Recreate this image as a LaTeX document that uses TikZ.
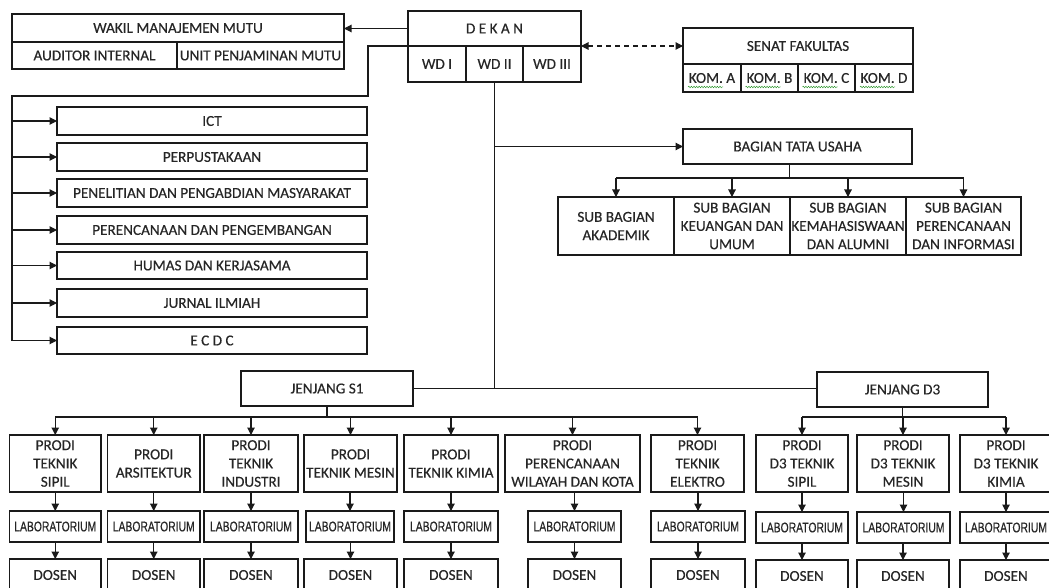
\documentclass[tikz,border=0pt]{standalone}
\usepackage{fontspec}
\setmainfont{Carlito}[FakeBold=0.35]
\newfontfamily\narrowfont[FakeStretch=0.74,FakeBold=0.3]{Liberation Sans}
\usetikzlibrary{arrows.meta,decorations.pathmorphing}
\definecolor{txt}{HTML}{262626}
\definecolor{ln}{HTML}{1A1A1A}
\tikzset{
  box/.style={draw=ln, line width=1.1pt, inner sep=0pt, outer sep=0pt, align=center,
    text=txt, font=\fontsize{15.2}{18.3}\selectfont},
  labbox/.style={box, font=\narrowfont\fontsize{14}{16}\selectfont},
  conn/.style={draw=ln, line width=1.1pt},
  arr/.style={conn, -{Triangle[length=7.5pt,width=7.5pt]}},
  dblarr/.style={conn, dash pattern=on 5pt off 4pt,
    {Triangle[length=7.5pt,width=7.5pt]}-{Triangle[length=7.5pt,width=7.5pt]}},
  spell/.style={draw=green!50!black!80, line width=0.5pt,
    decorate, decoration={snake, amplitude=0.8pt, segment length=2.6pt}},
}
% \mybox[opts]{name}{x1}{y1}{x2}{y2}{text}
\newcommand{\mybox}[7][]{%
  \node[box,#1,minimum width={(#5)-(#3)},minimum height={(#6)-(#4)}]
    (#2) at ({((#3)+(#5))/2},{((#4)+(#6))/2}) {#7};}
\begin{document}
\begin{tikzpicture}[x=1pt,y=-1pt]
\clip (0,0) rectangle (1049,588);
\fill[white] (0,0) rectangle (1049,588);

% ---------- top ----------
\mybox{wmm}{12}{14}{344}{42}{WAKIL MANAJEMEN MUTU}
\mybox{aud}{12}{42}{177}{69}{AUDITOR INTERNAL}
\mybox{upm}{177}{42}{344}{69}{UNIT PENJAMINAN MUTU}

\mybox{dekan}{408}{11}{581}{46}{D E K A N}
\mybox{wd1}{408}{46}{466}{82}{WD I}
\mybox{wd2}{466}{46}{523}{82}{WD II}
\mybox{wd3}{523}{46}{581}{82}{WD III}

\mybox{senat}{683}{28}{913}{64}{SENAT FAKULTAS}
\mybox{koma}{683}{64}{741}{92}{KOM. A}
\mybox{komb}{741}{64}{798}{92}{KOM. B}
\mybox{komc}{798}{64}{855}{92}{KOM. C}
\mybox{komd}{855}{64}{913}{92}{KOM. D}
\foreach \k in {koma,komb,komc,komd}{
  \draw[spell] ([xshift=-24pt,yshift=5pt]\k.south) -- ++(35,0);
}

% ---------- left column ----------
\mybox{ict}{57}{107}{367}{135}{ICT}
\mybox{perpus}{57}{143}{367}{171}{PERPUSTAKAAN}
\mybox{lppm}{57}{179}{367}{207}{PENELITIAN DAN PENGABDIAN MASYARAKAT}
\mybox{renbang}{57}{216}{367}{244}{PERENCANAAN DAN PENGEMBANGAN}
\mybox{humas}{57}{252}{367}{279}{HUMAS DAN KERJASAMA}
\mybox{jurnal}{57}{289}{367}{317}{JURNAL ILMIAH}
\mybox{ecdc}{57}{327}{367}{354}{E C D C}

% ---------- tata usaha ----------
\mybox{bagian}{683}{129}{912}{164}{BAGIAN TATA USAHA}
\mybox{sub1}{558}{197}{674}{255}{SUB BAGIAN\\AKADEMIK}
\mybox{sub2}{674}{197}{790}{255}{SUB BAGIAN\\KEUANGAN DAN\\UMUM}
\mybox{sub3}{790}{197}{906}{255}{SUB BAGIAN\\KEMAHASISWAAN\\DAN ALUMNI}
\mybox{sub4}{906}{197}{1021}{255}{SUB BAGIAN\\PERENCANAAN\\DAN INFORMASI}

% ---------- jenjang ----------
\mybox{js1}{241}{371}{413}{406}{JENJANG S1}
\mybox{jd3}{817}{372}{988}{407}{JENJANG D3}

% prodi row
\mybox{p1}{9.5}{435}{101}{492}{PRODI\\TEKNIK\\SIPIL}
\mybox{p2}{107.5}{435}{200}{492}{PRODI\\ARSITEKTUR}
\mybox{p3}{204}{435}{298}{492}{PRODI\\TEKNIK\\INDUSTRI}
\mybox{p4}{304}{435}{397}{492}{PRODI\\TEKNIK MESIN}
\mybox{p5}{404}{435}{498}{492}{PRODI\\TEKNIK KIMIA}
\mybox{p6}{505}{435}{640}{492}{PRODI\\PERENCANAAN\\WILAYAH DAN KOTA}
\mybox{p7}{651}{435}{744}{492}{PRODI\\TEKNIK\\ELEKTRO}
\mybox{p8}{756}{435}{848}{492}{PRODI\\D3 TEKNIK\\SIPIL}
\mybox{p9}{857}{435}{949}{492}{PRODI\\D3 TEKNIK\\MESIN}
\mybox{p10}{960}{435}{1052}{492}{PRODI\\D3 TEKNIK\\KIMIA}

% lab row
\mybox[labbox]{l1}{9.5}{511}{101}{542}{LABORATORIUM}
\mybox[labbox]{l2}{107.5}{511}{200}{542}{LABORATORIUM}
\mybox[labbox]{l3}{204}{511}{298}{542}{LABORATORIUM}
\mybox[labbox]{l4}{306}{511}{394}{542}{LABORATORIUM}
\mybox[labbox]{l5}{404}{511}{498}{542}{LABORATORIUM}
\mybox[labbox]{l6}{528}{511}{621}{542}{LABORATORIUM}
\mybox[labbox]{l7}{651}{511}{745}{542}{LABORATORIUM}
\mybox[labbox]{l8}{756}{512}{848}{543}{LABORATORIUM}
\mybox[labbox]{l9}{857}{512}{950}{543}{LABORATORIUM}
\mybox[labbox]{l10}{960}{512}{1052}{543}{LABORATORIUM}

% dosen row
\mybox{d1}{9.5}{559}{101}{591}{DOSEN}
\mybox{d2}{107.5}{559}{200}{591}{DOSEN}
\mybox{d3}{204}{559}{298}{591}{DOSEN}
\mybox{d4}{304}{559}{397}{591}{DOSEN}
\mybox{d5}{404}{559}{498}{591}{DOSEN}
\mybox{d6}{528}{559}{621}{591}{DOSEN}
\mybox{d7}{651}{559}{745}{591}{DOSEN}
\mybox{d8}{756}{560}{848}{592}{DOSEN}
\mybox{d9}{857}{560}{949}{592}{DOSEN}
\mybox{d10}{960}{560}{1052}{592}{DOSEN}

% ---------- connectors ----------
\draw[arr] (dekan.west) -- (dekan.west -| wmm.east);
\draw[dblarr] (wd3.north east) -- (wd3.north east -| senat.west);

% left trunk
\coordinate (bend) at (368,96);
\coordinate (lt) at (12,96);
\draw[conn] (wd1.north west) -| (bend) -- (lt) -- (lt |- ecdc.west);
\foreach \b in {ict,perpus,lppm,renbang,humas,jurnal,ecdc}{
  \draw[arr] (lt |- \b.west) -- (\b.west);
}

% WD II trunk
\draw[conn] (wd2.south) -- (wd2.south |- js1.east);
\draw[arr] (wd2.south |- bagian.west) -- (bagian.west);
\draw[conn] (js1.east) -- (js1.east -| jd3.west);

% tata usaha
\coordinate (bb) at ([xshift=-8pt,yshift=-14pt]bagian.south);
\draw[conn] ([xshift=-8pt]bagian.south) -- (bb);
\draw[conn] (sub1.north |- bb) -- (sub4.north |- bb);
\foreach \s in {sub1,sub2,sub3,sub4}{
  \draw[arr] (\s.north |- bb) -- (\s.north);
}

% S1
\coordinate (sb) at ([yshift=-11pt]js1.south);
\draw[conn] (js1.south) -- (sb);
\draw[conn] (p1.north |- sb) -- (p7.north |- sb);
\foreach \p in {p1,p2,p3,p4,p5,p6,p7}{
  \draw[arr] (\p.north |- sb) -- (\p.north);
}
% D3
\coordinate (db) at ([yshift=-10pt]jd3.south);
\draw[conn] (jd3.south) -- (db);
\draw[conn] (p8.north |- db) -- (p10.north |- db);
\foreach \p in {p8,p9,p10}{
  \draw[arr] (\p.north |- db) -- (\p.north);
}

% prodi -> lab -> dosen
\foreach \i in {1,...,10}{
  \draw[arr] (l\i.north |- p\i.south) -- (l\i.north);
  \draw[arr] (d\i.north |- l\i.south) -- (d\i.north);
}
\end{tikzpicture}
\end{document}
